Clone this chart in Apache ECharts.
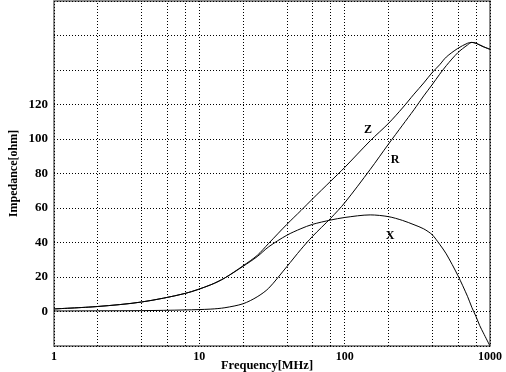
<!DOCTYPE html>
<html>
<head>
<meta charset="utf-8">
<script src="https://cdn.jsdelivr.net/npm/echarts@6/dist/echarts.min.js"></script>
<style>
  html, body { margin: 0; padding: 0; background: #fff; }
  #chart { width: 506px; height: 372px; }
</style>
</head>
<body>
<div id="chart"></div>
<script>
// Frequency sweep points (MHz)
const freq = [1, 2, 4, 8, 12, 15, 20, 25, 30, 40, 50, 60, 80, 100, 150, 200, 250, 300, 350, 400, 450, 500, 600, 700, 750, 800, 850, 900, 1000];
// |Z|, R and X in ohm at each frequency
const zValues = [1.5, 2.9, 5.5, 10.5, 15.5, 19.5, 26.5, 32.5, 39.5, 50.5, 58.5, 65.2, 75.5, 83.5, 99, 109, 118, 126, 132.5, 138.5, 143, 147.5, 152.5, 155.5, 156, 155.5, 154.5, 153.5, 152];
const rValues = [0.3, 0.4, 0.5, 0.9, 1.4, 2.2, 4.5, 8.5, 13.5, 26, 36, 43.5, 54, 63, 82.4, 97, 108, 117, 125, 131.5, 137.5, 142.5, 150, 154.5, 156, 155.5, 154.5, 153.5, 152];
const xValues = [1.5, 2.9, 5.5, 10.5, 15.5, 19.5, 26.2, 31.8, 37.5, 44.2, 48, 50.5, 53, 54.5, 56, 55, 52.8, 50.3, 47.9, 44.5, 39, 33.4, 21, 8.8, 2.4, -2.8, -8.2, -12.4, -20];
// Minor vertical grid positions (MHz)
const minorFreqs = [2, 4, 6, 8, 20, 40, 60, 80, 200, 400, 600, 800];
// Y tick labels that are printed
const yLabels = [0, 20, 40, 60, 80, 100, 120];

const serif = "'Liberation Serif', 'Times New Roman', serif";
const dots = { type: [1, 2], color: '#000', width: 1 };

function pairs(vals) { return freq.map((f, i) => [f, vals[i]]); }

function curve(name, vals, labelAt, extra) {
  return Object.assign({
    name: name,
    type: 'line',
    data: pairs(vals),
    showSymbol: false,
    smooth: 0.3,
    lineStyle: { color: '#000', width: 1 },
    z: 5,
    markPoint: {
      silent: true,
      symbol: 'circle',
      symbolSize: 1,
      itemStyle: { color: 'rgba(0,0,0,0)' },
      label: { show: true, position: 'inside', formatter: name, color: '#000', fontWeight: 'bold', fontSize: 12, fontFamily: serif },
      data: [{ coord: labelAt }]
    }
  }, extra || {});
}

const chart = echarts.init(document.getElementById('chart'), null, { renderer: 'canvas' });
chart.setOption({
  animation: false,
  backgroundColor: '#fff',
  grid: {
    left: 54, right: 16, top: 1, bottom: 26,
    outerBoundsMode: 'none', containLabel: false,
    show: true, borderColor: '#666', borderWidth: 1.5, backgroundColor: 'transparent'
  },
  xAxis: {
    type: 'log', logBase: 10, min: 1, max: 1000,
    name: 'Frequency[MHz]', nameLocation: 'middle', nameGap: 13, nameMoveOverlap: false,
    nameTextStyle: { fontFamily: serif, fontWeight: 'bold', fontSize: 12.5, color: '#000', padding: [0, 10, 0, 0] },
    axisLine: { show: false },
    axisTick: { show: false },
    axisLabel: { fontFamily: serif, fontWeight: 'bold', fontSize: 12, color: '#000', margin: 5, formatter: v => String(Math.round(v)) },
    splitLine: { show: true, lineStyle: dots }
  },
  yAxis: {
    type: 'value', min: -20, max: 180, interval: 20,
    name: 'Impedance[ohm]', nameLocation: 'middle', nameGap: 34, nameRotate: 90, nameMoveOverlap: false,
    nameTextStyle: { fontFamily: serif, fontWeight: 'bold', fontSize: 12, color: '#000' },
    axisLine: { show: false },
    axisTick: { show: false },
    axisLabel: {
      fontFamily: serif, fontWeight: 'bold', fontSize: 13, color: '#000', margin: 6,
      formatter: v => (yLabels.indexOf(v) >= 0 ? String(v) : '')
    },
    splitLine: { show: true, lineStyle: dots }
  },
  series: [
    curve('Z', zValues, [145, 105.5], {
      markLine: {
        silent: true,
        symbol: ['none', 'none'],
        label: { show: false },
        lineStyle: dots,
        data: minorFreqs.map(f => ({ xAxis: f }))
      }
    }),
    curve('R', rValues, [222, 88]),
    curve('X', xValues, [205, 44])
  ]
});
</script>
</body>
</html>
